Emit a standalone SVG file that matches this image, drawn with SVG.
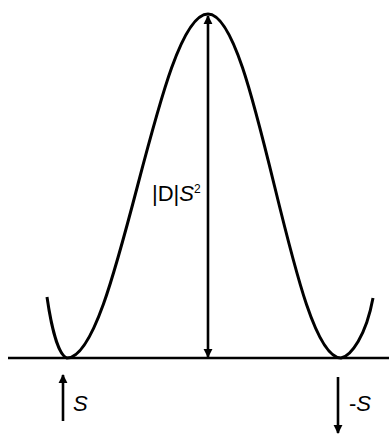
<svg xmlns="http://www.w3.org/2000/svg" width="389" height="436" viewBox="0 0 389 436">
<style>
.ln{stroke:#000;fill:none;stroke-width:2.6;stroke-linecap:butt}
.cv{stroke:#000;fill:none;stroke-width:3;stroke-linejoin:round}
.lbl{font-family:"Liberation Sans",Arial,sans-serif;font-size:22px;fill:#000}
</style>
<defs>
<marker id="ah" viewBox="0 0 10 10" refX="9" refY="5" markerWidth="3.4" markerHeight="3.6" markerUnits="strokeWidth" orient="auto-start-reverse">
<path d="M0,0 L10,5 L0,10 Z" fill="#000"/>
</marker>
</defs>
<g id="baseline"><line class="ln" x1="8" y1="358" x2="389" y2="358" stroke-width="3.2"/></g>
<g id="curve">
<path class="cv" d="M47,297 C51,325 58,355 67,358 C118,358 157,14 208,14 C257,14 292,358 341,358 C351,356 366,336 373,298"/>
</g>
<g id="connectors">
<line class="ln" x1="208" y1="357" x2="208" y2="16" marker-start="url(#ah)" marker-end="url(#ah)"/>
<line class="ln" x1="63" y1="421" x2="63" y2="375" marker-end="url(#ah)"/>
<line class="ln" x1="338" y1="377" x2="338" y2="433" marker-end="url(#ah)"/>
</g>
<g id="label-dis">
<text class="lbl" x="152" y="201" font-size="19">|D|<tspan font-style="italic">S</tspan><tspan font-size="12" dy="-8">2</tspan></text>
</g>
<g id="label-s">
<text class="lbl" x="73" y="411" font-style="italic">S</text>
</g>
<g id="label-neg-s">
<text class="lbl" x="349" y="411">-<tspan font-style="italic">S</tspan></text>
</g>
</svg>
